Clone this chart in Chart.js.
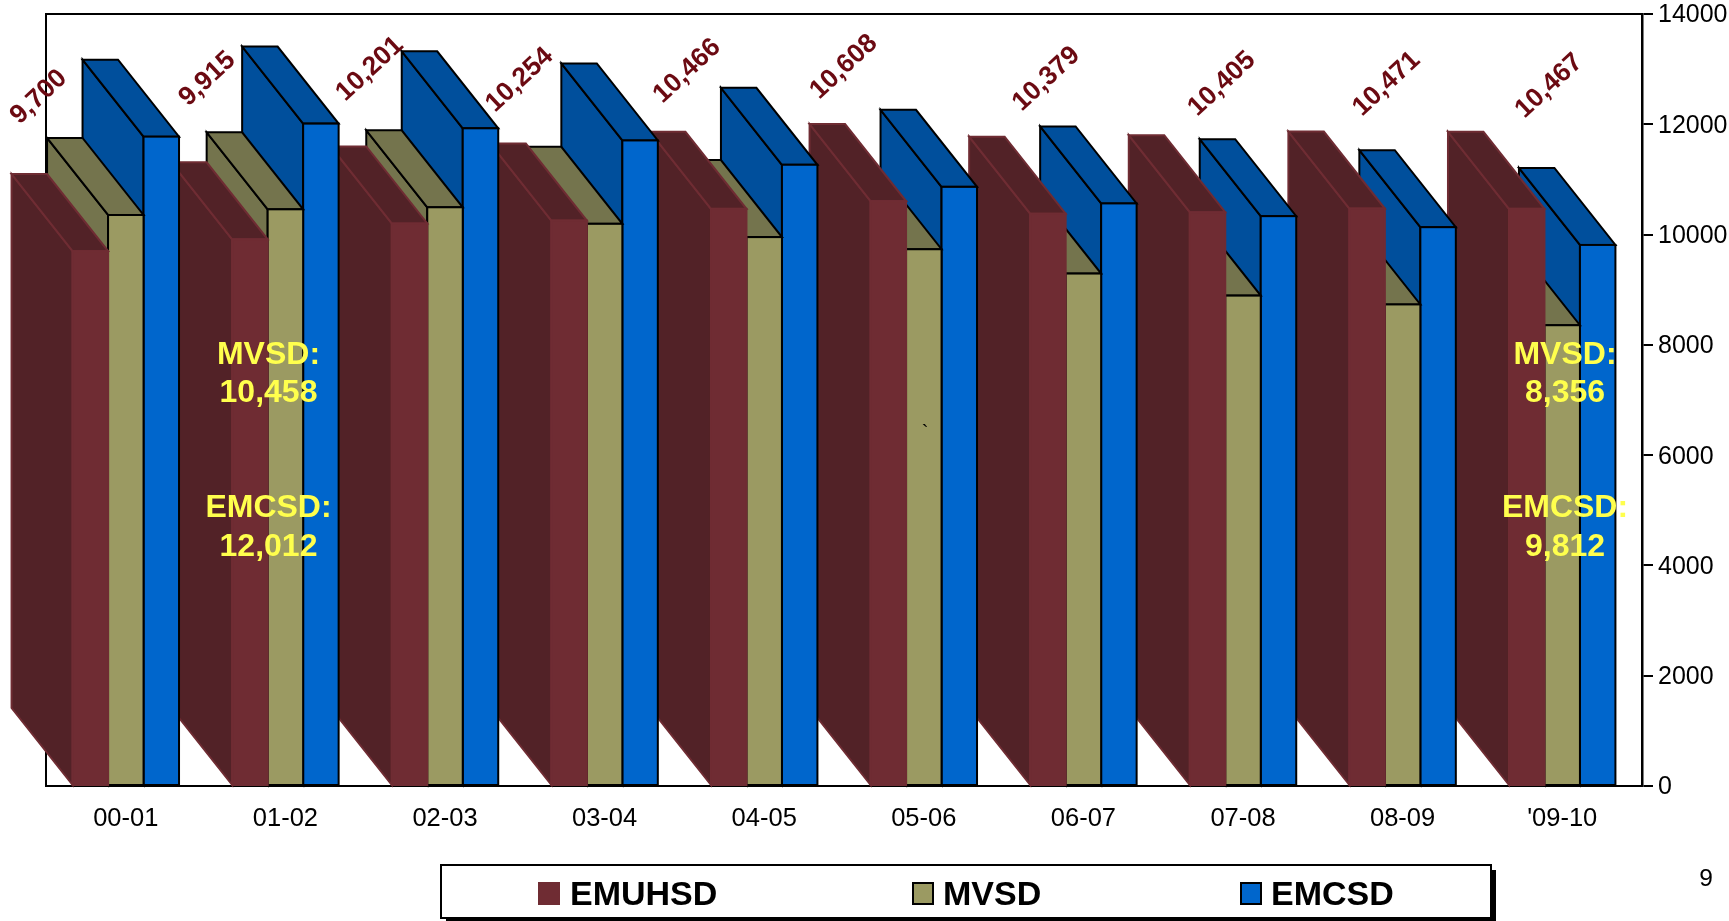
<!DOCTYPE html>
<html>
<head>
<meta charset="utf-8">
<style>html,body{margin:0;padding:0;background:#fff;overflow:hidden}canvas{display:block}</style>
<script src="https://cdn.jsdelivr.net/npm/chart.js@4"></script>
</head>
<body>
<canvas id="c" width="1729" height="921"></canvas>
<script>
const categories = ['00-01','01-02','02-03','03-04','04-05','05-06','06-07','07-08','08-09',"'09-10"];
const emuhsd = [9700,9915,10201,10254,10466,10608,10379,10405,10471,10467];
const mvsd = [10355,10458,10495,10195,9954,9734,9293,8893,8733,8356];
const emcsd = [11776,12012,11927,11707,11266,10865,10565,10334,10134,9812];
const yTicks = [0,2000,4000,6000,8000,10000,12000,14000];
const FONT = '"Liberation Sans", Arial, sans-serif';
const fmt = v => v.toLocaleString('en-US');

// look of the three series: front, shaded faces, outline
const looks = [
  {front:'#6F2C33', shade:'#522227', line:'#6F2C33'},
  {front:'#9B9A62', shade:'#74744D', line:'#000000'},
  {front:'#0066CC', shade:'#004F9C', line:'#000000'}
];
const DEPTH_X = -61, DEPTH_Y = -77;

// text offsets (px) of the rotated EMUHSD labels from the category centre / axis top
const labelShiftX = [-87,-78,-75,-85,-77,-80,-37,-21,-16,-13];
const labelY = [97,79,69,80,71,67,79,84,84,86];

function poly(ctx, pts, fill, line){
  ctx.beginPath();
  pts.forEach((p,i)=> i?ctx.lineTo(p[0],p[1]):ctx.moveTo(p[0],p[1]));
  ctx.closePath();
  ctx.fillStyle = fill; ctx.fill();
  ctx.strokeStyle = line; ctx.lineWidth = 2; ctx.lineJoin='miter'; ctx.stroke();
}

const solidBars = {
  id:'solidBars',
  beforeDatasetsDraw(chart){
    const {ctx, chartArea:a} = chart;
    // frame top + left
    ctx.save();
    ctx.strokeStyle='#000'; ctx.lineWidth=2;
    ctx.beginPath(); ctx.moveTo(a.left,a.bottom); ctx.lineTo(a.left,a.top); ctx.lineTo(a.right,a.top); ctx.stroke();
    const n = categories.length;
    for(let g=n-1;g>=0;g--){
      for(let d=2;d>=0;d--){
        const el = chart.getDatasetMeta(d).data[g];
        const {x,y,base,width} = el.getProps(['x','y','base','width'],true);
        const L=x-width/2, R=x+width/2, k=looks[d];
        poly(ctx,[[L,y],[L+DEPTH_X,y+DEPTH_Y],[L+DEPTH_X,base+DEPTH_Y],[L,base]],k.shade,k.line);
        poly(ctx,[[L,y],[L+DEPTH_X,y+DEPTH_Y],[R+DEPTH_X,y+DEPTH_Y],[R,y]],k.shade,k.line);
        el.draw(ctx);
        ctx.strokeStyle=k.line; ctx.lineWidth=2;
        ctx.strokeRect(L,y,width,base-y);
      }
    }
    ctx.restore();
    return false;
  },
  afterDraw(chart){
    const {ctx, scales:{x:xs}} = chart;
    ctx.save();
    ctx.textAlign='center'; ctx.textBaseline='middle';
    // rotated EMUHSD labels
    ctx.fillStyle='#6B0A12';
    ctx.font='bold 26.5px '+FONT;
    emuhsd.forEach((v,i)=>{
      ctx.save();
      ctx.translate(xs.getPixelForValue(i)+labelShiftX[i], labelY[i]);
      ctx.rotate(-43*Math.PI/180);
      ctx.fillText(fmt(v),0,0);
      ctx.restore();
    });
    // yellow callouts
    ctx.fillStyle='#FFFF4D';
    ctx.font='bold 32px '+FONT;
    [[1,268.5],[9,1565]].forEach(([i,px])=>{
      ctx.fillText('MVSD:',px,355);
      ctx.fillText(fmt(mvsd[i]),px,393);
      ctx.fillText('EMCSD:',px,508);
      ctx.fillText(fmt(emcsd[i]),px,547);
    });
    // stray mark and page number
    ctx.fillStyle='#000';
    ctx.font='20px '+FONT;
    ctx.fillText('`',925,433);
    ctx.font='24.5px '+FONT;
    ctx.fillText('9',1706,879);
    // legend
    ctx.fillStyle='#000'; ctx.fillRect(446,870,1050,51);
    ctx.fillStyle='#fff'; ctx.fillRect(441,865,1050,53);
    ctx.strokeStyle='#000'; ctx.lineWidth=2; ctx.strokeRect(441,865,1050,53);
    const sw=[539,913,1241], tx=[570,943,1271];
    chart.data.datasets.forEach((ds,i)=>{
      ctx.fillStyle=looks[i].front;
      ctx.fillRect(sw[i],883,20,21);
      ctx.strokeStyle=looks[i].line; ctx.lineWidth=2;
      ctx.strokeRect(sw[i],883,20,21);
      ctx.fillStyle='#000';
      ctx.textAlign='left';
      ctx.font='bold 34px '+FONT;
      ctx.fillText(ds.label,tx[i],896);
    });
    ctx.restore();
  }
};

new Chart(document.getElementById('c'),{
  type:'bar',
  data:{labels:categories,datasets:[
    {label:'EMUHSD',data:emuhsd,backgroundColor:looks[0].front,borderWidth:0},
    {label:'MVSD',data:mvsd,backgroundColor:looks[1].front,borderWidth:0},
    {label:'EMCSD',data:emcsd,backgroundColor:looks[2].front,borderWidth:0}
  ]},
  options:{
    responsive:false,animation:false,devicePixelRatio:1,
    layout:{padding:{left:46,top:14,right:0,bottom:0}},
    datasets:{bar:{barPercentage:1,categoryPercentage:0.667}},
    plugins:{legend:{display:false},tooltip:{enabled:false},title:{display:false}},
    scales:{
      x:{
        type:'category',offset:true,
        grid:{display:true,drawOnChartArea:false,drawTicks:false,tickLength:0},
        border:{color:'#000',width:2},
        ticks:{color:'#000',font:{family:FONT,size:25.5},padding:18,maxRotation:0,autoSkip:false},
        afterFit(s){s.height=135;s.paddingLeft=0;s.paddingRight=0;}
      },
      y:{
        position:'right',min:0,max:14000,
        grid:{display:true,drawOnChartArea:false,drawTicks:true,tickLength:11,color:'#000',lineWidth:2},
        border:{color:'#000',width:2.5},
        afterBuildTicks(s){s.ticks=yTicks.map(v=>({value:v}));},
        ticks:{color:'#000',font:{family:FONT,size:25},padding:5,labelOffset:1.5,callback:v=>String(v)},
        afterFit(s){s.width=87;s.paddingTop=0;s.paddingBottom=0;}
      }
    }
  },
  plugins:[solidBars]
});
</script>
</body>
</html>
